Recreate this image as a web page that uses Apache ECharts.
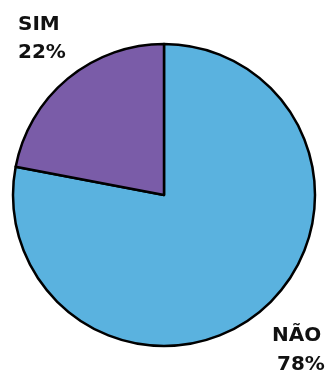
<!DOCTYPE html>
<html>
<head>
<meta charset="utf-8">
<script src="https://cdn.jsdelivr.net/npm/echarts@6/dist/echarts.min.js"></script>
<style>html,body{margin:0;padding:0;background:#fff}#c{width:325px;height:376px}</style>
</head>
<body>
<div id="c"></div>
<script>
var categories = ['NÃO', 'SIM'];
var values = [78, 22];
var colors = ['#5ab2df', '#7a5ca8'];

var chart = echarts.init(document.getElementById('c'));
var labelFont = { fontFamily: 'DejaVu Sans', fontWeight: 'bold', fontSize: 20, fill: '#111' };
function lbl(text, x, y) {
  return { type: 'text', left: x, top: y, style: Object.assign({ text: text }, labelFont) };
}
chart.setOption({
  animation: false,
  series: [{
    type: 'pie',
    center: [164, 195],
    radius: 151,
    startAngle: 90,
    clockwise: true,
    label: { show: false },
    labelLine: { show: false },
    itemStyle: { borderColor: '#000', borderWidth: 2.5 },
    data: categories.map(function (c, i) {
      return { name: c, value: values[i], itemStyle: { color: colors[i] } };
    })
  }],
  graphic: [
    lbl(categories[1], 18, 15),
    lbl(values[1] + '%', 18, 43),
    lbl(categories[0], 272, 326),
    lbl(values[0] + '%', 277, 355)
  ]
});
</script>
</body>
</html>
